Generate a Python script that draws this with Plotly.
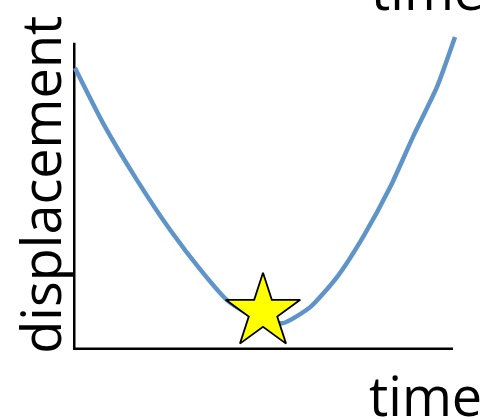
import plotly.graph_objects as go

# Data (time, displacement)
time = [0.05, 0.75, 1.6, 2.43, 3.25, 3.85, 4.3, 4.8, 5.25, 5.93, 6.6, 7.25, 7.93, 8.5, 9.1, 9.55]
displacement = [8.81, 7.09, 5.31, 3.75, 2.41, 1.56, 1.19, 0.91, 0.84, 1.34, 2.28, 3.53, 5.09, 6.66, 8.22, 9.78]

star_time = [4.75]
star_displacement = [1.19]

x_label = "time"
y_label = "displacement"

axis_x_end = 9.5
axis_y_end = 9.6

fig = go.Figure()
fig.add_trace(go.Scatter(
    x=time, y=displacement, mode="lines",
    line=dict(color="#5f94c9", width=4.5, shape="spline", smoothing=0.6),
    hoverinfo="skip", showlegend=False, cliponaxis=False,
))
fig.add_trace(go.Scatter(
    x=star_time, y=star_displacement, mode="markers",
    marker=dict(symbol="star", size=56, color="#ffff00",
                line=dict(color="black", width=1.8)),
    hoverinfo="skip", showlegend=False, cliponaxis=False,
))

# axis lines
fig.add_shape(type="line", x0=0, x1=axis_x_end, y0=0, y1=0,
              line=dict(color="black", width=5), layer="below")
fig.add_shape(type="line", x0=0, x1=0, y0=0, y1=axis_y_end,
              line=dict(color="black", width=5), layer="below")

font = dict(family="Open Sans", size=54, color="black")
fig.add_annotation(text=y_label, xref="paper", yref="paper", x=-0.083, y=0.516,
                   textangle=-90, showarrow=False, xanchor="center", yanchor="middle",
                   font=font)
fig.add_annotation(text=x_label, xref="paper", yref="paper", x=0.88, y=-0.14,
                   showarrow=False, xanchor="center", yanchor="middle", font=font)
fig.add_annotation(text=x_label, xref="paper", yref="paper", x=0.885, y=1.128,
                   showarrow=False, xanchor="center", yanchor="middle", font=font)

fig.update_xaxes(range=[0, 10], visible=False, fixedrange=True)
fig.update_yaxes(range=[0, 10], visible=False, fixedrange=True)
fig.update_layout(
    width=485, height=420,
    margin=dict(l=73, r=12, t=30, b=70, autoexpand=False),
    plot_bgcolor="white", paper_bgcolor="white",
)
fig.write_html("out.html", config={"displayModeBar": False},
               post_script="document.body.style.margin='0';")
